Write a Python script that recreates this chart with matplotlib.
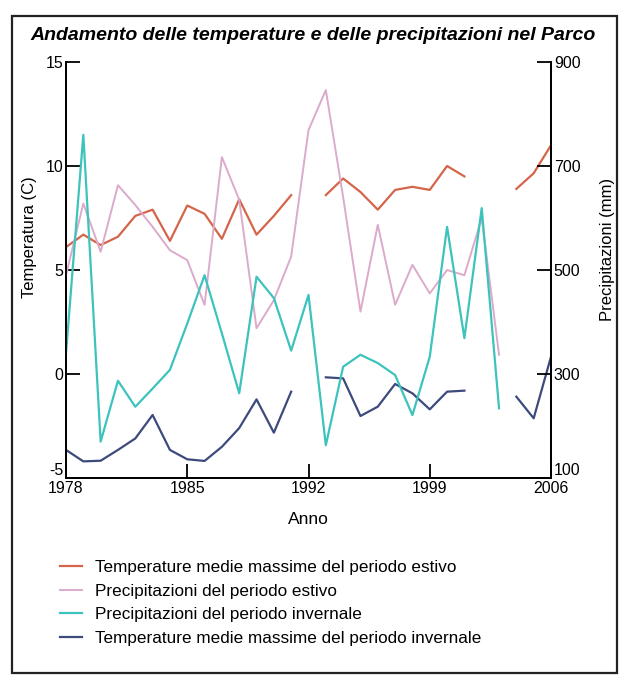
import numpy as np
import matplotlib
matplotlib.use("Agg")
import matplotlib.pyplot as plt
from matplotlib.patches import Rectangle

plt.rcParams['font.family'] = ['Liberation Sans', 'DejaVu Sans']
plt.rcParams['axes.unicode_minus'] = False

nan = np.nan
anni = np.arange(1978, 2007)

# temperature medie massime estive (C)
temp_estiva = [6.1, 6.7, 6.2, 6.6, 7.6, 7.9, 6.4, 8.1, 7.7, 6.5, 8.4, 6.7, 7.6, 8.6,
               nan, 8.6, 9.4, 8.75, 7.9, 8.85, 9.0, 8.85, 10.0, 9.5, nan, nan,
               8.9, 9.65, 11.0]
# precipitazioni estive (mm)
prec_estiva = [490, 628, 535, 663, 625, 583, 538, 519, 433, 717, 635, 388, 442, 526,
               769, 846, 640, 420, 587, 433, 510, 455, 500, 490, 600, 337,
               nan, nan, nan]
# precipitazioni invernali (mm)
prec_invernale = [340, 760, 170, 287, 237, 272, 308, 397, 490, 378, 263, 487, 446, 345,
                  452, 163, 314, 337, 321, 298, 221, 333, 583, 369, 619, 234,
                  nan, nan, nan]
# temperature medie massime invernali (C)
temp_invernale = [-3.65, -4.2, -4.17, -3.65, -3.1, -1.97, -3.65, -4.1, -4.18, -3.5,
                  -2.6, -1.22, -2.82, -0.85, nan, -0.16, -0.21, -2.02, -1.57, -0.48,
                  -0.93, -1.7, -0.85, -0.8, nan, nan, -1.09, -2.13, 0.83]

etichette = ["Temperature medie massime del periodo estivo",
             "Precipitazioni del periodo estivo",
             "Precipitazioni del periodo invernale",
             "Temperature medie massime del periodo invernale"]

c_rosso = '#d4654a'
c_rosa = '#dcaacb'
c_ciano = '#3cc3bd'
c_blu = '#3d4a7c'

fig = plt.figure(figsize=(6.21, 6.75), dpi=100)
ax = fig.add_axes([66/621, 1-478/675, (551-66)/621, (478-62)/675])
ax2 = ax.twinx()

l1, = ax.plot(anni, temp_estiva, color=c_rosso, lw=1.6)
l4, = ax.plot(anni, temp_invernale, color=c_blu, lw=1.6)
l2, = ax2.plot(anni, prec_estiva, color=c_rosa, lw=1.4)
l3, = ax2.plot(anni, prec_invernale, color=c_ciano, lw=1.6)

ax.set_xlim(1978, 2006)
ax.set_ylim(-5, 15)
ax2.set_ylim(100, 900)
ax.set_xticks([1978, 1985, 1992, 1999, 2006])
ax.set_yticks([-5, 0, 5, 10, 15])
ax2.set_yticks([100, 300, 500, 700, 900])

for a in (ax, ax2):
    a.spines['top'].set_visible(False)
    for s in a.spines.values():
        s.set_linewidth(1.3)
    a.tick_params(direction='in', length=10, width=1.3, labelsize=11.5, pad=2)

# le etichette dell'angolo in basso stanno un po' piu' su
ax.get_yticklabels()[0].set_verticalalignment('bottom')
ax2.get_yticklabels()[0].set_verticalalignment('bottom')

ax.set_xlabel("Anno", fontsize=12.5, labelpad=12)
ax.set_ylabel("Temperatura (C)", fontsize=12)
ax.yaxis.set_label_coords(-0.06, 0.58)
ax2.set_ylabel("Precipitazioni (mm)", fontsize=12)
ax2.yaxis.set_label_coords(1.101, 0.55)

fig.text(30/621, 1-35/675, "Andamento delle temperature e delle precipitazioni nel Parco",
         fontsize=14, fontweight='bold', style='italic', va='center', ha='left')

fig.legend([l1, l2, l3, l4], etichette, loc='upper left',
           bbox_to_anchor=(60/621, 1-560/675), frameon=False, fontsize=12.3,
           borderpad=0, borderaxespad=0, handlelength=1.3, handletextpad=0.75,
           labelspacing=0.5)

fig.patches.append(Rectangle((12/621, 2/675), 605/621, 657/675, transform=fig.transFigure,
                             fill=False, edgecolor='#222222', lw=1.6))

fig.savefig("out.png", dpi=100)
